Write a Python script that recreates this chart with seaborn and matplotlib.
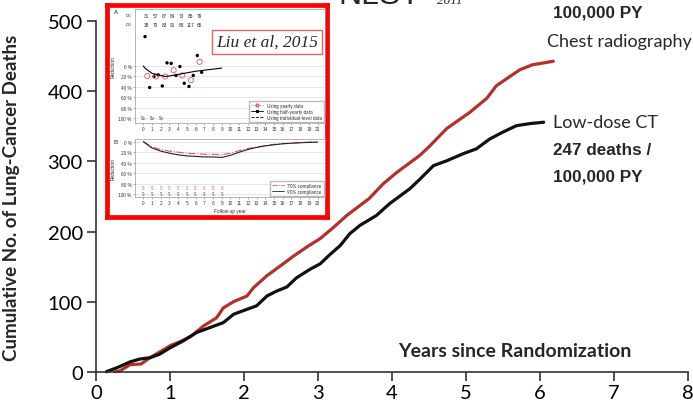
import matplotlib
matplotlib.use('Agg')
import matplotlib.pyplot as plt
from matplotlib.lines import Line2D
import seaborn as sns
import numpy as np
import pandas as pd

# main curves (NLST cumulative lung-cancer deaths)
cxr_years = [0.26, 0.32, 0.46, 0.61, 0.73, 0.86, 1.0, 1.16, 1.29, 1.45, 1.63, 1.72, 1.86, 2.04, 2.13, 2.31,
             2.53, 2.67, 2.85, 3.03, 3.21, 3.39, 3.69, 3.88, 4.06, 4.24, 4.38, 4.51, 4.74, 5.05, 5.28, 5.41,
             5.59, 5.73, 5.9, 6.18]
cxr_deaths = [0, 1, 10, 11, 20, 28, 37, 44, 51, 65, 77, 91, 100, 108, 120, 137,
              154, 165, 178, 190, 206, 223, 247, 268, 284, 298, 309, 322, 347, 370, 390, 408,
              421, 431, 438, 443]
ct_years = [0.14, 0.29, 0.46, 0.59, 0.73, 0.86, 1.0, 1.18, 1.36, 1.54, 1.72, 1.86, 2.04, 2.17, 2.31, 2.44,
            2.58, 2.71, 2.89, 3.03, 3.16, 3.30, 3.43, 3.57, 3.79, 3.97, 4.06, 4.24, 4.38, 4.56, 4.74, 4.96,
            5.14, 5.32, 5.5, 5.68, 5.86, 6.05]
ct_deaths = [0, 6, 14, 18, 20, 25, 34, 44, 56, 63, 70, 82, 89, 94, 108, 115,
             121, 134, 146, 154, 167, 180, 197, 209, 223, 240, 247, 261, 275, 294, 301, 311,
             318, 332, 342, 351, 354, 356]

# inset panel A (Liu et al, 2015)
half_x = [0.2, 0.73, 1.23, 1.72, 2.18, 2.72, 3.2, 3.75, 4.2, 4.7, 5.24, 5.73, 6.2, 6.7]
half_y = [-56, 41, 20, 17, 38, -6, -5, 18, 1, 33, 39, 18, -20, 12]
year_x = [0.46, 1.46, 2.52, 3.48, 4.47, 5.47, 6.46]
year_y = [19, 20, 20, 8, 18, 27, -8]
indiv_x = [0, 0.25, 0.5, 1, 1.5, 2, 2.5, 3, 4, 5, 6, 7, 8, 9]
indiv_y = [0, 5, 8, 14, 16, 18, 20, 19, 16, 13, 10, 8, 6, 4]
d1 = [31, 57, 67, 84, 73, 85, 79]
d2 = [38, 70, 83, 91, 88, 117, 65]

# inset panel B
b_years = list(range(21))
b_70 = [0, 10, 15, 18, 20, 22, 23, 24, 24, 25, 22, 17, 13, 10, 8, 5, 4, 3, 2, 1, 0]
b_90 = [0, 12, 18, 22, 25, 27, 28, 29, 29, 30, 26, 20, 15, 11, 8, 6, 4, 3, 2, 1.5, 1]

sns.set_style('ticks')
plt.rcParams['font.family'] = ['Lato', 'DejaVu Sans']

W, H = 693, 402
fig = plt.figure(figsize=(W / 100, H / 100), dpi=100)

def fx(px):
    return px / W

def fy(py):
    return 1 - py / H

ax = fig.add_axes([fx(96), fy(372.7), fx(688) - fx(96), fy(22.3) - fy(372.7)])
red = '#b3312a'
df_cxr = pd.DataFrame({'year': cxr_years, 'deaths': cxr_deaths})
df_ct = pd.DataFrame({'year': ct_years, 'deaths': ct_deaths})
sns.lineplot(data=df_cxr, x='year', y='deaths', ax=ax, color=red, lw=2.3, estimator=None, sort=False)
sns.lineplot(data=df_ct, x='year', y='deaths', ax=ax, color='#111111', lw=2.3, estimator=None, sort=False)
for ln in ax.lines:
    ln.set_clip_on(False)
ax.set_xlim(0, 8)
ax.set_ylim(0, 500)
ax.set_xticks(range(0, 9))
ax.set_yticks(range(0, 501, 100))
sns.despine(ax=ax)
for s in ['left', 'bottom']:
    ax.spines[s].set_color('#333333')
    ax.spines[s].set_linewidth(1.2)
ax.tick_params(axis='both', colors='#333333', width=1.2, length=6.5, labelsize=14.5, labelcolor='black')
ax.tick_params(axis='y', pad=3)
ax.tick_params(axis='x', pad=2)
ax.set_ylabel('Cumulative No. of Lung-Cancer Deaths', fontsize=13.5, fontweight='bold')
ax.yaxis.set_label_coords(-0.128, 0.5)
ax.set_xlabel('')
ax.text(0.708, 0.06, 'Years since Randomization', transform=ax.transAxes, ha='center', va='center',
        fontsize=14, fontweight='bold')

# annotations on the right
fig.text(fx(547), fy(47), 'Chest radiography', fontsize=13, ha='left', va='baseline')
fig.text(fx(553), fy(128), 'Low-dose CT', fontsize=13, ha='left', va='baseline')
bold = dict(fontsize=12.3, fontweight='bold', family=['Liberation Sans', 'DejaVu Sans'], ha='left', va='baseline')
fig.text(fx(553), fy(155), '247 deaths /', **bold)
fig.text(fx(553), fy(182), '100,000 PY', **bold)
fig.text(fx(553), fy(17), '100,000 PY', **bold)
fig.text(fx(338), fy(4.5), 'NLST', fontsize=23, family=['Liberation Sans'], ha='left', va='baseline')
fig.text(fx(437), fy(4), '2011', fontsize=9.5, family=['Liberation Serif'], style='italic',
         ha='left', va='baseline')

# inset frame
frame = fig.add_axes([fx(107), fy(218), fx(327) - fx(107), fy(6) - fy(218)])
frame.set_xticks([])
frame.set_yticks([])
for s in frame.spines.values():
    s.set_color('#ff0000')
    s.set_linewidth(3.4)
frame.set_zorder(5)

tiny = 3.4
gray = '#777777'

def style_panel(a, yl):
    a.set_facecolor('white')
    a.set_xlim(-0.95, 20.85)
    a.set_ylim(*yl)
    a.set_xticks(range(0, 21))
    a.set_yticks(range(0, 101, 20))
    a.set_yticklabels([f'{v} %' for v in range(0, 101, 20)])
    a.tick_params(labelsize=tiny, length=1.5, width=0.4, pad=1, colors=gray, labelcolor='#333333')
    a.grid(axis='y', color='#dddddd', lw=0.5)
    for s in a.spines.values():
        s.set_color('#999999')
        s.set_linewidth(0.5)
    a.set_ylabel('Reduction', fontsize=tiny, labelpad=2, family=['Liberation Sans'])
    for lab in a.get_xticklabels() + a.get_yticklabels():
        lab.set_family(['Liberation Sans'])

axA = fig.add_axes([fx(135), fy(124), fx(325) - fx(135), fy(10) - fy(124)])
axA.set_zorder(6)
style_panel(axA, (108.6, -108.6))
axA.plot(indiv_x, indiv_y, color='black', lw=0.8)
sns.scatterplot(x=half_x, y=half_y, ax=axA, color='black', s=6, edgecolor='none')
sns.scatterplot(x=year_x, y=year_y, ax=axA, facecolor='none', edgecolor='#e8505b', s=14, linewidth=0.6)
for i in range(len(d1)):
    axA.text(i + 0.4, -96, str(d1[i]), fontsize=tiny, ha='center', va='center', family=['Liberation Sans'])
    axA.text(i + 0.4, -80, str(d2[i]), fontsize=tiny, ha='center', va='center', family=['Liberation Sans'])
axA.text(-1.3, -96, 'D$_1$', fontsize=3.1, ha='right', va='center')
axA.text(-1.3, -80, 'D$_2$', fontsize=3.1, ha='right', va='center')
for i, lab in enumerate(['S$_1$', 'S$_2$', 'S$_3$']):
    axA.text(i, 99, lab, fontsize=tiny, ha='center', va='center')
handles = [Line2D([], [], color='#e8505b', ls=':', marker='o', mfc='none', ms=2, lw=0.6),
           Line2D([], [], color='black', ls='-', marker='o', ms=1.5, lw=0.6),
           Line2D([], [], color='black', ls='--', lw=0.6)]
axA.legend(handles, ['Using yearly data', 'Using half-yearly data', 'Using individual-level data'],
           loc='lower right', fontsize=tiny, frameon=True, fancybox=False, edgecolor='#aaaaaa',
           handlelength=2.5, borderpad=0.4, labelspacing=0.2, borderaxespad=0.3)
axA.set_xlabel('')
fig.text(fx(116), fy(13), 'A', fontsize=4.5, ha='center', va='center', family=['Liberation Sans'], zorder=7)

axB = fig.add_axes([fx(135), fy(198), fx(325) - fx(135), fy(140) - fy(198)])
axB.set_zorder(6)
style_panel(axB, (105, -5))
axB.plot(b_years, b_70, color='#e8505b', lw=0.8, ls='-.')
axB.plot(b_years, b_90, color='#222222', lw=0.8)
for i in range(10):
    axB.text(i, 87, 'S', fontsize=tiny, color='#e8505b', ha='center', va='center')
    axB.text(i, 98, 'S', fontsize=tiny, color='#444444', ha='center', va='center')
axB.legend([Line2D([], [], color='#e8505b', ls='-.', lw=0.6), Line2D([], [], color='#222222', lw=0.6)],
           ['70% compliance', '90% compliance'], loc='lower right', fontsize=tiny, frameon=True,
           fancybox=False, edgecolor='#aaaaaa', handlelength=2.5, borderpad=0.4, labelspacing=0.2,
           borderaxespad=0.3)
axB.set_xlabel('Follow-up year', fontsize=tiny, labelpad=1.5, family=['Liberation Sans'])
fig.text(fx(116), fy(143), 'B', fontsize=4.5, ha='center', va='center', family=['Liberation Sans'], zorder=7)

# Liu et al label
fig.text(fx(267), fy(43), 'Liu et al, 2015', fontsize=12.5, family=['Liberation Serif'], style='italic',
         ha='center', va='center', zorder=8,
         bbox=dict(boxstyle='square,pad=0.22', facecolor='white', edgecolor='#e06666', linewidth=1.0))

fig.savefig('out.png', dpi=100)
